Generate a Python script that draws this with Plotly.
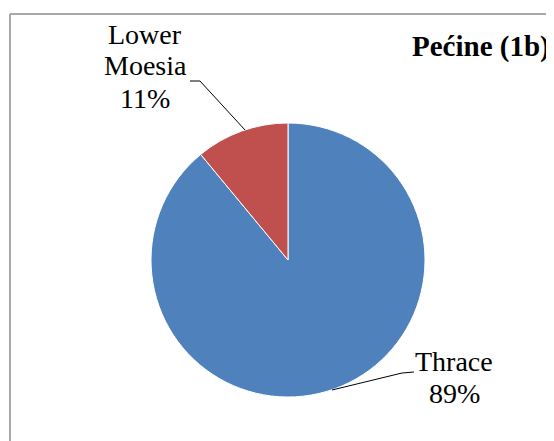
import plotly.graph_objects as go

# ---- data ----
labels = ["Thrace", "Lower Moesia"]
values = [89, 11]
colors = ["#4F81BD", "#C0504D"]
title_text = "Pećine (1b)"

# page body has an 8px margin
OFF = 8
W, H = 554, 441


def px(x):
    return (x - OFF) / W


def py(y):
    return 1 - (y - OFF) / H


total = sum(values)
pct = [round(v / total * 100) for v in values]

fig = go.Figure()
cx, cy, r = 288, 260, 137
fig.add_trace(go.Pie(
    labels=labels,
    values=values,
    sort=False,
    direction="clockwise",
    rotation=0,
    marker=dict(colors=colors, line=dict(color="white", width=1)),
    textinfo="none",
    hoverinfo="label+percent",
    showlegend=False,
    domain=dict(x=[px(cx - r), px(cx + r)], y=[py(cy + r), py(cy - r)]),
))

FAMILY = "Times New Roman, Liberation Serif, DejaVu Serif, serif"
FS = 28
font = dict(family=FAMILY, size=FS, color="#000000")

# label block positions: (centre x, first-line centre y), line spacing in px
label_pos = [(454, 361), (145, 34)]
LINE_GAP = 32
leaders = [
    [(414, 372), (402, 373), (332, 390)],
    [(190, 81), (200, 81), (245, 130)],
]

annotations = []
for lab, p, (x, y) in zip(labels, pct, label_pos):
    lines = lab.split(" ") + [f"{p}%"]
    for i, ln in enumerate(lines):
        annotations.append(dict(
            x=px(x), y=py(y + i * LINE_GAP), xref="paper", yref="paper",
            text=ln, showarrow=False, xanchor="center", yanchor="middle",
            font=font, align="center",
        ))

annotations.append(dict(
    x=px(410), y=py(47), xref="paper", yref="paper",
    text="<b>" + title_text + "</b>", showarrow=False,
    xanchor="left", yanchor="middle",
    font=dict(family=FAMILY, size=29, color="#000000"),
))

shapes = []
for pts in leaders:
    path = "M " + " L ".join(f"{px(x)},{py(y)}" for x, y in pts)
    shapes.append(dict(type="path", path=path, xref="paper", yref="paper",
                       line=dict(color="#000000", width=1)))

# chart frame (only the top and left edges are inside the picture)
frame = dict(color="#8c8c8c", width=1.5)
shapes.append(dict(type="line", xref="paper", yref="paper",
                   x0=px(10), y0=py(14), x1=px(560), y1=py(14), line=frame))
shapes.append(dict(type="line", xref="paper", yref="paper",
                   x0=px(10), y0=py(14), x1=px(10), y1=py(449), line=frame))

fig.update_layout(
    width=W, height=H,
    margin=dict(l=0, r=0, t=0, b=0),
    paper_bgcolor="white", plot_bgcolor="white",
    annotations=annotations, shapes=shapes,
)

fig.write_html("out.html")
